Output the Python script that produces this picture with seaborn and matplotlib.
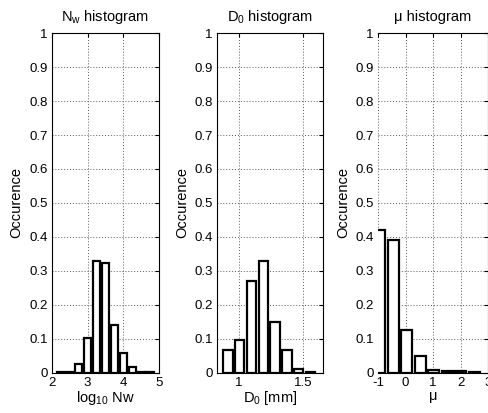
import seaborn as sns
import numpy as np
import matplotlib
matplotlib.use("Agg")
import matplotlib.pyplot as plt

# values (bin centres and relative occurrence)
nw_centers = [2.25, 2.5, 2.75, 3.0, 3.25, 3.5, 3.75, 4.0, 4.25, 4.5, 4.75]
nw_occ = [0.001, 0.002, 0.027, 0.103, 0.328, 0.322, 0.141, 0.058, 0.017, 0.002, 0.001]

d0_centers = [0.912, 1.004, 1.096, 1.188, 1.28, 1.372, 1.464, 1.556]
d0_occ = [0.067, 0.095, 0.269, 0.328, 0.149, 0.067, 0.012, 0.001]

mu_centers = [-0.93, -0.44, 0.05, 0.54, 1.03, 1.52, 2.01, 2.50]
mu_occ = [0.42, 0.39, 0.125, 0.048, 0.008, 0.004, 0.004, 0.001]

titles = ["N$_\\mathrm{w}$ histogram", "D$_\\mathrm{0}$ histogram", "\u03bc histogram"]
xlabels = ["log$_\\mathrm{10}$ Nw", "D$_\\mathrm{0}$ [mm]", "\u03bc"]
xlims = [(2, 5), (0.828, 1.656), (-1, 3)]
xticks = [[2, 3, 4, 5], [1, 1.5], [-1, 0, 1, 2, 3]]
yticks = [0, 0.1, 0.2, 0.3, 0.4, 0.5, 0.6, 0.7, 0.8, 0.9, 1]

sns.set_style("white")
plt.rcParams["font.family"] = ["Liberation Sans", "DejaVu Sans"]
plt.rcParams["mathtext.fontset"] = "custom"
plt.rcParams["mathtext.rm"] = "Liberation Sans"
plt.rcParams["mathtext.it"] = "Liberation Sans"
plt.rcParams["text.color"] = "black"
plt.rcParams["axes.labelcolor"] = "black"
plt.rcParams["xtick.color"] = "black"
plt.rcParams["ytick.color"] = "black"

fig = plt.figure(figsize=(4.89, 4.13), dpi=100)
positions = [
    [0.106, 0.0976, 0.219, 0.822],
    [0.444, 0.0976, 0.217, 0.822],
    [0.773, 0.0976, 0.225, 0.822],
]

data = [(nw_centers, nw_occ), (d0_centers, d0_occ), (mu_centers, mu_occ)]

for i, (cx, occ) in enumerate(data):
    ax = fig.add_axes(positions[i])
    sns.barplot(x=cx, y=occ, native_scale=True, color="white",
                edgecolor="black", linewidth=1.6, errorbar=None,
                saturation=1, ax=ax)
    ax.set_xlim(*xlims[i])
    ax.set_ylim(0, 1)
    ax.set_xticks(xticks[i])
    ax.set_xticklabels(["%g" % t for t in xticks[i]])
    ax.set_yticks(yticks)
    ax.set_yticklabels(["%g" % t for t in yticks])
    ax.grid(True, linestyle=(0, (1, 2)), color="0.35", linewidth=0.7)
    ax.set_axisbelow(True)
    ax.tick_params(direction="in", top=True, right=True, length=3,
                   labelsize=9.5, pad=3, color="black")
    for s in ax.spines.values():
        s.set_color("black")
        s.set_linewidth(0.8)
    if i == 2:
        ax.spines["left"].set_visible(False)
    ax.set_title(titles[i], fontsize=10.5, pad=9)
    ax.set_xlabel(xlabels[i], fontsize=10.5, labelpad=0)
    ax.set_ylabel("Occurence", fontsize=10.5, labelpad=4)

fig.savefig("out.png", dpi=100)
